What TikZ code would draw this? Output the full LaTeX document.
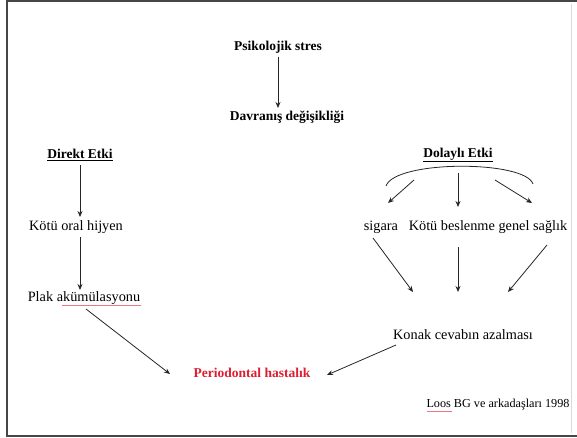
\documentclass[tikz,border=0pt]{standalone}
\usepackage{fontspec}
\setmainfont{Liberation Serif}
\usetikzlibrary{arrows.meta}
\definecolor{pred}{RGB}{220,30,50}
\definecolor{frame}{RGB}{70,70,70}
\tikzset{
  txt/.style={inner sep=0pt, font=\fontsize{14.3}{16}\selectfont},
  btxt/.style={inner sep=0pt, font=\fontsize{13.5}{15}\selectfont\bfseries},
  arr/.style={draw=black!85, line width=0.8pt, -{Stealth[length=6pt,width=5pt]}},
  ln/.style={draw=black!85, line width=0.8pt},
  squig/.style={pred!60, line width=0.5pt},
}
\begin{document}
\begin{tikzpicture}[x=1pt,y=-1pt]
\useasboundingbox (0,0) rectangle (577,438);
\fill[white] (0,0) rectangle (577,438);
% frame
\draw[frame, line width=2.5pt] (7,437) -- (7,1) -- (577,1);
\draw[frame, line width=2pt] (7,436) -- (577,436);
\draw[black!15, line width=0.8pt] (571,4) -- (571,433);

% nodes
\node[btxt] (ps) at (278,47) {Psikolojik stres};
\node[btxt] (dv) at (287,117) {Davranış değişikliği};
\node[btxt] (dk) at (80,155) {\underline{Direkt Etki}};
\node[txt] (ko) at (76,227) {Kötü oral hijyen};
\node[txt] (pl) at (84,298) {Plak akümülasyonu};
\node[btxt, text=pred] (pe) at (252,373) {Periodontal hastalık};
\node[btxt] (do) at (458,155) {\underline{Dolaylı Etki}};
\node[txt] (si) at (381,227) {sigara};
\node[txt] (kb) at (488,227) {Kötü beslenme genel sağlık};
\node[txt] (kc) at (463,335) {Konak cevabın azalması};
\node[inner sep=0pt, font=\fontsize{12.2}{14}\selectfont] (lo) at (498,405) {Loos BG ve arkadaşları 1998};

% spell-check underlines
\draw[squig] (62,305) -- (141,305);
\draw[squig] (427,411) -- (452,411);

% coordinates
\coordinate (p1) at (278,57);
\coordinate (p2) at (278,108);
\coordinate (d1) at (80,165);
\coordinate (d2) at (80,217);
\coordinate (d3) at (80,237);
\coordinate (d4) at (80,290);
\coordinate (pa) at (86,309);
\coordinate (pb) at (170,374);
\coordinate (ka) at (396,345);
\coordinate (kb2) at (327,375);
\coordinate (a1) at (386,186);
\coordinate (a2) at (533,184);
\coordinate (s1) at (414,180);
\coordinate (s2) at (388,203);
\coordinate (m1) at (458,173);
\coordinate (m2) at (458,207);
\coordinate (r1) at (495,180);
\coordinate (r2) at (532,203);
\coordinate (l1) at (373,238);
\coordinate (l2) at (413,292);
\coordinate (c1) at (458,247);
\coordinate (c2) at (458,292);
\coordinate (e1) at (547,245);
\coordinate (e2) at (508,292);

\draw[arr] (p1) -- (p2);
\draw[arr] (d1) -- (d2);
\draw[arr] (d3) -- (d4);
\draw[arr] (pa) -- (pb);
\draw[arr] (ka) -- (kb2);
\draw[ln] (a1) .. controls (395,160) and (525,160) .. (a2);
\draw[arr] (s1) -- (s2);
\draw[arr] (m1) -- (m2);
\draw[arr] (r1) -- (r2);
\draw[arr] (l1) -- (l2);
\draw[arr] (c1) -- (c2);
\draw[arr] (e1) -- (e2);
\end{tikzpicture}
\end{document}
